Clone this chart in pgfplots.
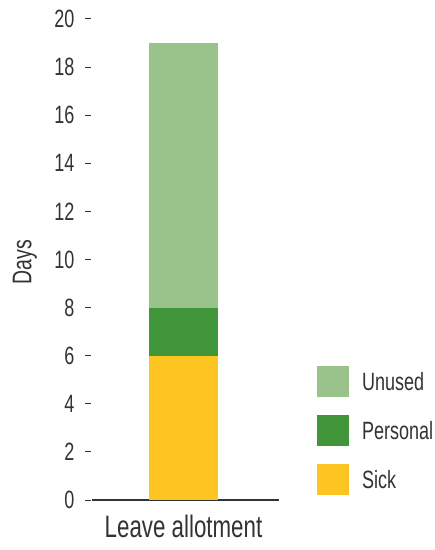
\documentclass[border=0pt]{standalone}
\usepackage{fontspec}
\setmainfont{Liberation Sans}[FakeStretch=0.72]
\usepackage{pgfplots}
\pgfplotsset{compat=1.18}
\definecolor{unused}{HTML}{9AC28B}
\definecolor{personal}{HTML}{41963A}
\definecolor{sick}{HTML}{FDC422}
\definecolor{txt}{HTML}{333333}

\begin{document}
\begin{tikzpicture}
\begin{axis}[
    x=1bp, y=24.05bp,
    xmin=92, xmax=279, ymin=0, ymax=20,
    axis y line*=left, axis x line*=bottom,
    y axis line style={draw=none},
    x axis line style={draw=txt, line width=1.5bp},
    ytick={0,2,...,20},
    xtick={183.5}, xticklabels={Leave allotment},
    xtick style={draw=none},
    ytick style={draw=txt, line width=1bp, xshift=-1bp},
    tick align=outside, major tick length=6bp,
    /pgf/number format/assume math mode=true,
    yticklabel style={font=\fontsize{25bp}{30bp}\selectfont, text=txt, xshift=-8bp},
    xticklabel style={font=\fontsize{31bp}{36bp}\selectfont, text=txt, yshift=-6bp},
    ylabel={Days},
    ylabel style={at={(axis cs:25,9.9)}, anchor=center, font=\fontsize{27bp}{32bp}\selectfont, text=txt},
    ybar stacked, bar width=69,
    reverse legend,
    legend image code/.code={\fill[#1] (0bp,-15.5bp) rectangle (32bp,15.5bp); \path (45bp,0bp);},
    legend style={at={(axis cs:317,5.57)}, anchor=north west, draw=none, fill=none,
        inner sep=0pt, row sep=18bp, nodes={inner sep=0pt, text=txt},
        font=\fontsize{25bp}{30bp}\selectfont, cells={anchor=west}},
    clip=false,
]
\addplot[fill=sick, draw=none] coordinates {(183.5,6)};
\addplot[fill=personal, draw=none] coordinates {(183.5,2)};
\addplot[fill=unused, draw=none] coordinates {(183.5,11)};
\legend{Sick, Personal, Unused}
\coordinate (bl) at (axis cs:0,-2.079);
\coordinate (tr) at (axis cs:435,20.79);
\end{axis}
\pgfresetboundingbox
\path[use as bounding box] (bl) rectangle (tr);
\end{tikzpicture}
\end{document}
